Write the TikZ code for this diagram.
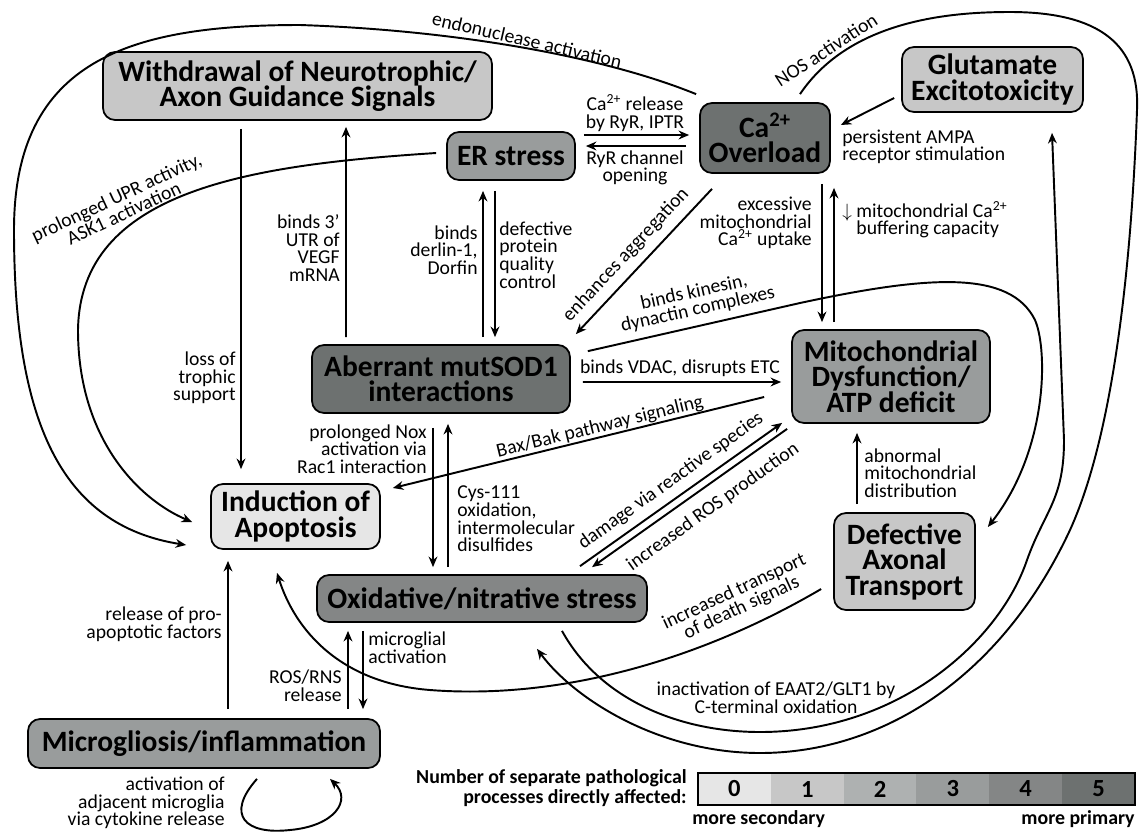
\documentclass[tikz,border=0pt]{standalone}
\usepackage{fontspec}
\setmainfont{Carlito}
\usetikzlibrary{calc,arrows.meta}
\definecolor{lvl0}{HTML}{E6E6E6}
\definecolor{lvl1}{HTML}{C7C7C7}
\definecolor{lvl2}{HTML}{AEB1B1}
\definecolor{lvl3}{HTML}{999C9C}
\definecolor{lvl4}{HTML}{848686}
\definecolor{lvl5}{HTML}{6D7170}

\begin{document}
\begin{tikzpicture}[x=0.02cm,y=-0.02cm,
  box/.style={draw,line width=1pt,rounded corners=0.24cm,align=center,inner sep=0pt,
    font=\bfseries\fontsize{16.8}{14.5}\selectfont},
  lab/.style={font=\fontsize{11.2}{10}\selectfont,inner sep=0pt},
  legtxt/.style={font=\bfseries\fontsize{11.3}{11.3}\selectfont,inner sep=0pt},
  arr/.style={line width=1.1pt,-{Stealth[length=6pt,width=5pt]}},
  ln/.style={line width=1.1pt}]
\useasboundingbox (0,0) rectangle (1143,833);

\node[box,fill=lvl1,minimum width=7.78cm,minimum height=1.36cm] (wd) at (297.5,86) {Withdrawal of Neurotrophic/\\Axon Guidance Signals};
\node[box,fill=lvl3,minimum width=2.56cm,minimum height=0.96cm] (er) at (511,156) {ER stress};
\node[box,fill=lvl5,minimum width=2.6cm,minimum height=1.4cm] (ca) at (765,138) {Ca\textsuperscript{2+}\\Overload};
\node[box,fill=lvl1,minimum width=3.62cm,minimum height=1.3cm] (glu) at (992.5,79.5) {Glutamate\\Excitotoxicity};
\node[box,fill=lvl3,minimum width=3.96cm,minimum height=1.86cm] (mito) at (891,376.5) {Mitochondrial\\Dysfunction/\\ATP deficit};
\node[box,fill=lvl5,minimum width=5.16cm,minimum height=1.36cm] (sod) at (441,379) {Aberrant mutSOD1\\interactions};
\node[box,fill=lvl0,minimum width=3.38cm,minimum height=1.3cm] (apo) at (295.5,516.5) {Induction of\\Apoptosis};
\node[box,fill=lvl4,minimum width=6.6cm,minimum height=0.94cm] (oxi) at (482,598.5) {Oxidative/nitrative stress};
\node[box,fill=lvl1,minimum width=2.82cm,minimum height=1.94cm] (dat) at (904.5,561.5) {Defective\\Axonal\\Transport};
\node[box,fill=lvl3,minimum width=7.04cm,minimum height=0.98cm] (mic) at (204,743.5) {Microgliosis/inflammation};

\draw[arr] ($(wd.south)+(-56.5,8)$) -- ($(apo.north)+(-54.5,-14)$);
\draw[arr] ($(sod.north)+(-95,-7)$) -- ($(wd.south)+(48.5,6)$);
\draw[arr] ($(sod.north)+(42,-7)$) -- ($(er.south)+(-28,10)$);
\draw[arr] ($(er.south)+(-16,10)$) -- ($(sod.north)+(54,-7)$);
\draw[arr] ($(er.east)+(8,-21)$) -- ($(ca.west)+(-10,-3)$);
\draw[arr] ($(ca.west)+(-13,8)$) -- ($(er.east)+(10,-10)$);
\draw[arr] ($(ca.south)+(-53,15)$) -- ($(sod.north east)+(5,-10)$);
\draw[arr] ($(ca.south)+(57,10)$) -- ($(mito.north)+(-69,-7)$);
\draw[arr] ($(mito.north)+(-57,-7)$) -- ($(ca.south)+(69,14)$);
\draw[arr] ($(glu.west)+(-7,18.5)$) -- ($(ca.east)+(10,-13)$);
\draw[arr] ($(sod.east)+(12,3)$) -- ($(mito.west)+(-10,5.5)$);
\draw[arr] ($(sod.north east)+(17,7)$) -- (800,303) .. controls (930,275) and (1010,270) .. (1035,320)
  .. controls (1048,350) and (1048,450) .. ($(dat.east)+(12,-34.5)$);
\draw[arr] ($(mito.west)+(-27,20.5)$) -- ($(apo.east)+(12,-28.5)$);
\draw[arr] ($(oxi.north)+(98,-8)$) -- ($(mito.south west)+(-9,-1)$);
\draw[arr] ($(mito.south west)+(-4,5)$) -- ($(oxi.north)+(110,-7)$);
\draw[arr] ($(sod.south)+(-8,14)$) -- ($(oxi.north)+(-49,-7)$);
\draw[arr] ($(oxi.north)+(-34,-7)$) -- ($(sod.south)+(7,10)$);
\draw[arr] ($(mic.north)+(144,-9)$) -- ($(oxi.south)+(-134,8)$);
\draw[arr] ($(oxi.south)+(-119,8)$) -- ($(mic.north)+(159,-9)$);
\draw[arr] ($(mic.north)+(24,-9)$) -- ($(apo.south)+(-67.5,11)$);
\draw[arr] ($(mic.south)+(53,10)$) .. controls (225,815) and (245,835) .. (290,830)
  .. controls (335,826) and (352,800) .. ($(mic.south)+(126,10)$);
\draw[arr] ($(dat.north)+(-47.5,-8)$) -- ($(mito.south)+(-34,9)$);
\draw[arr] ($(er.west)+(-10,-3)$) .. controls (250,165) and (80,190) .. (78,330)
  .. controls (78,440) and (140,500) .. ($(apo.west)+(-18,5.5)$);
\draw[arr] ($(ca.north west)+(-3,-8)$) .. controls (600,55) and (450,30) .. (300,25)
  .. controls (130,25) and (14,60) .. (14,230) .. controls (14,420) and (60,525) .. ($(apo.west)+(-24,28.5)$);
\draw[arr] ($(ca.north)+(35,-8)$) .. controls (850,20) and (950,12) .. (1010,12)
  .. controls (1100,12) and (1140,45) .. (1137,110) .. controls (1133,220) and (1120,420) .. (1070,530)
  .. controls (1000,680) and (880,753) .. (760,753) .. controls (660,753) and (575,700) .. ($(oxi.south)+(55,26)$);
\draw[arr] ($(oxi.south)+(80,8)$) .. controls (600,700) and (680,732) .. (760,732)
  .. controls (900,732) and (1000,640) .. (1027,560) .. controls (1045,510) and (1064,500) .. (1064,440)
  -- ($(glu.south)+(59.5,20)$);
\draw[arr] ($(dat.west)+(-12,27.5)$) .. controls (700,660) and (560,700) .. (430,690)
  .. controls (340,683) and (295,630) .. ($(apo.south)+(-18.5,23)$);

\node[lab,align=right,anchor=east] (tro) at (236,378) {loss of\\trophic\\support};
\node[lab,align=right,anchor=east] (vegf) at (340,248) {binds 3’\\UTR of\\VEGF\\mRNA};
\node[lab,align=right,anchor=east] (der) at (478,250) {binds\\derlin-1,\\Dorfin};
\node[lab,align=left,anchor=west] (qc) at (499,255) {defective\\protein\\quality\\control};
\node[lab,align=center] (rel) at (635,113) {Ca\textsuperscript{2+} release\\by RyR, IPTR};
\node[lab,align=center] (ryr) at (635,168) {RyR channel\\opening};
\node[lab,rotate=47] (agg) at (626,255) {enhances aggregation};
\node[lab,align=right,anchor=east] (exc) at (812,223) {excessive\\mitochondrial\\Ca\textsuperscript{2+} uptake};
\node[lab,align=left,anchor=west] (buf) at (842,220) {$\downarrow$ mitochondrial Ca\textsuperscript{2+}\\\phantom{$\downarrow$ }buffering capacity};
\node[lab,align=left,anchor=west] (ampa) at (842,147) {persistent AMPA\\receptor stimulation};
\node[lab] (vdac) at (680,368) {binds VDAC, disrupts ETC};
\node[lab,align=center,rotate=12.6] (kin) at (696,301) {binds kinesin,\\dynactin complexes};
\node[lab,rotate=13.7] (bax) at (600,427) {Bax/Bak pathway signaling};
\node[lab,rotate=35.5] (dmg) at (671,481) {damage via reactive species};
\node[lab,rotate=35.5] (ros) at (713,507) {increased ROS production};
\node[lab,align=right,anchor=east] (nox) at (427,449) {prolonged Nox\\activation via\\Rac1 interaction};
\node[lab,align=left,anchor=west] (cys) at (457,519) {Cys-111\\oxidation,\\intermolecular\\disulfides};
\node[lab,align=right,anchor=east] (rns) at (342,686) {ROS/RNS\\release};
\node[lab,align=left,anchor=west] (mga) at (368,648) {microglial\\activation};
\node[lab,align=right,anchor=east] (pro) at (222,624) {release of pro-\\apoptotic factors};
\node[lab,align=right,anchor=east] (cyt) at (225,803) {activation of\\adjacent microglia\\via cytokine release};
\node[lab,align=left,anchor=west] (dist) at (864,473) {abnormal\\mitochondrial\\distribution};
\node[lab,align=center] (eaat) at (776,698) {inactivation of EAAT2/GLT1 by\\C-terminal oxidation};
\node[lab,rotate=-13] (endo) at (527,40) {endonuclease activation};
\node[lab,rotate=33] (nos) at (826,50) {NOS activation};
\node[lab,align=center,rotate=25] (upr) at (120,205) {prolonged UPR activity,\\ASK1 activation};
\node[lab,align=center,rotate=25] (dth) at (738,600) {increased transport\\of death signals};

\node[legtxt,align=right,anchor=east] (leg) at (687,788) {Number of separate pathological\\processes directly affected:};
\foreach \i in {0,...,5} {
  \fill[lvl\i] (698+72.83*\i,773) rectangle (770.83+72.83*\i,805);
  \node[font=\bfseries\fontsize{14}{14}\selectfont] (n\i) at (734.4+72.83*\i,789) {\i};
}
\draw[line width=1.2pt] (698,773) rectangle (1135,805);
\node[legtxt,anchor=west] (sec) at (692,819) {more secondary};
\node[legtxt,anchor=east] (pri) at (1135,819) {more primary};
\end{tikzpicture}
\end{document}
